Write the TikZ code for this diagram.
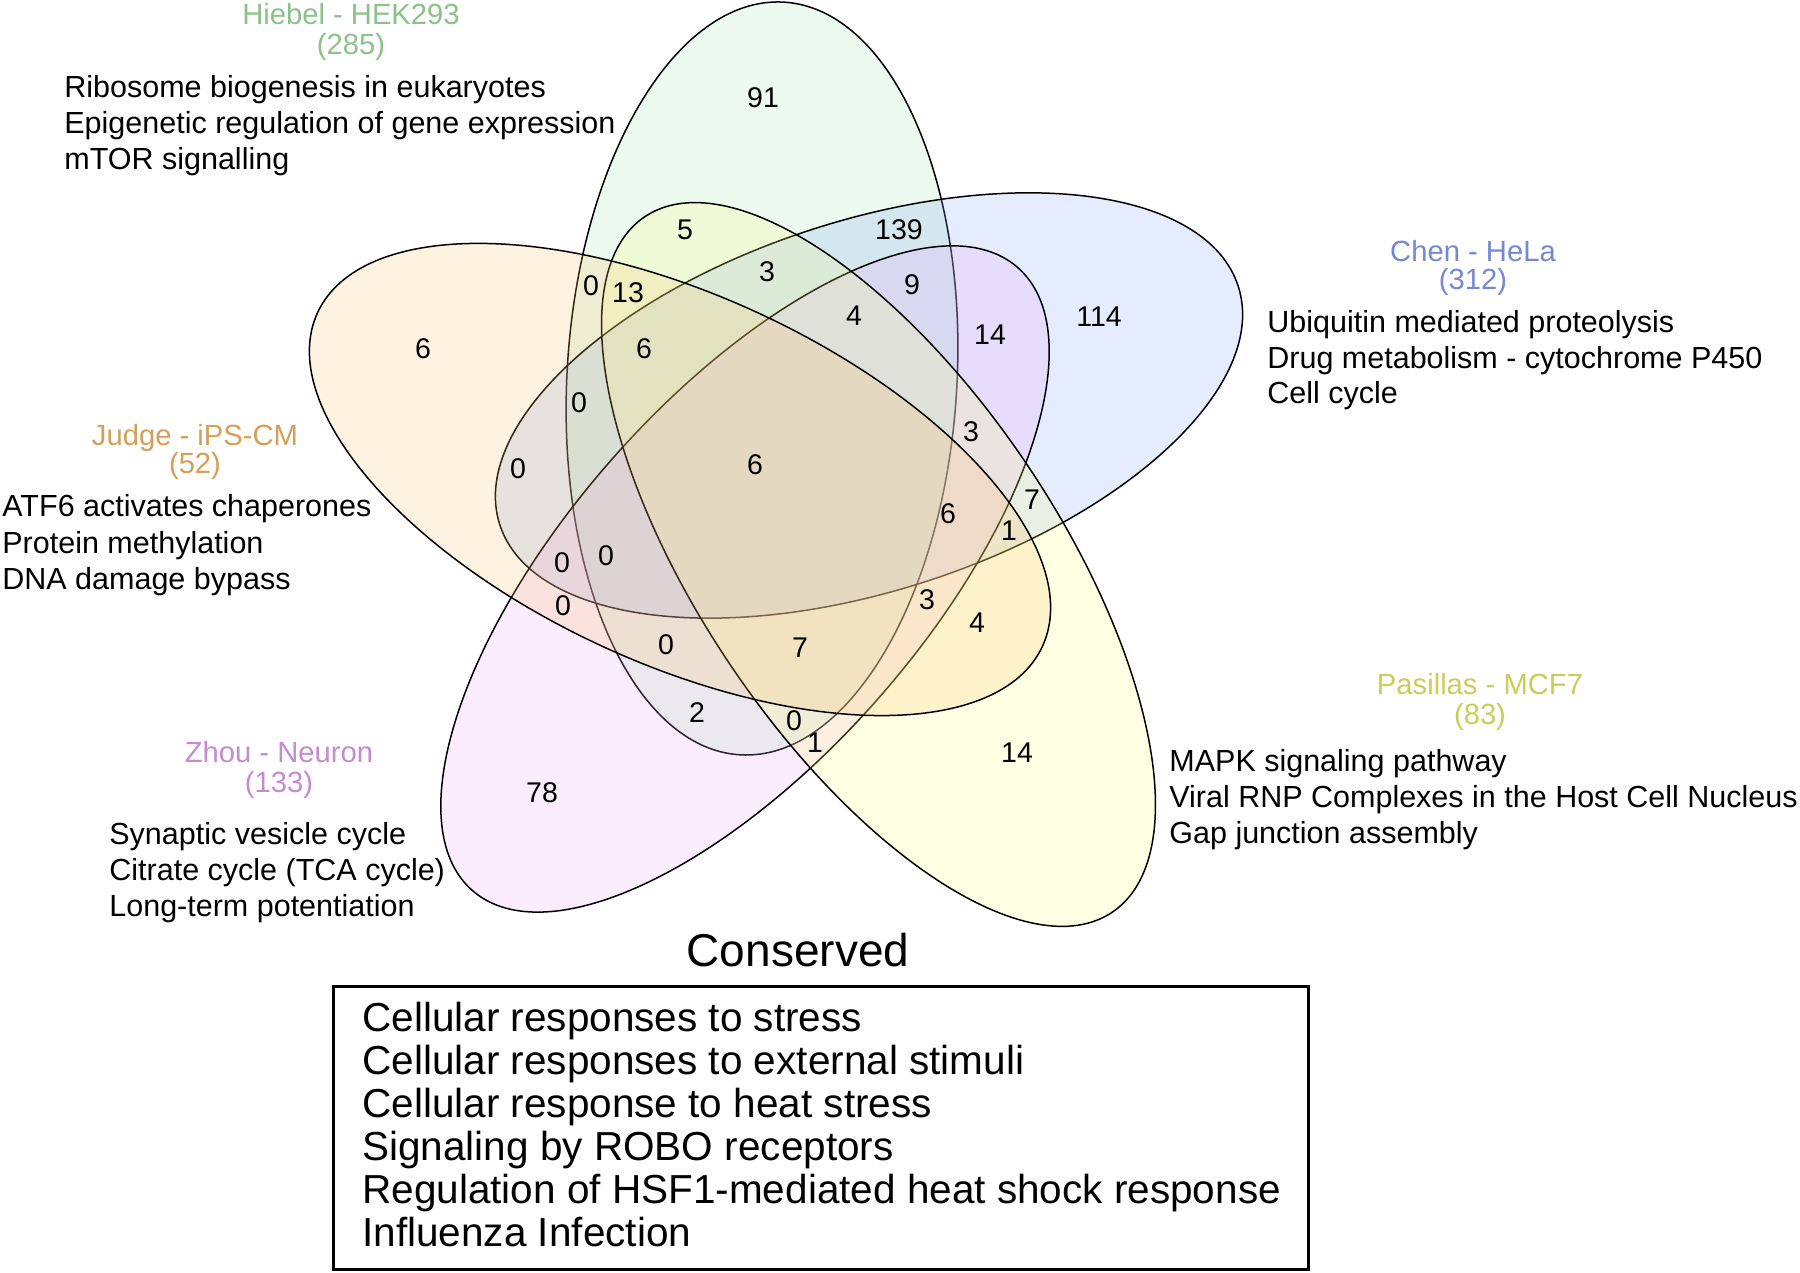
\documentclass[tikz,border=0pt]{standalone}
\usepackage{fontspec}
\setmainfont{Liberation Sans}

\definecolor{hiebelfill}{RGB}{160,225,170}
\definecolor{chenfill}{RGB}{120,160,245}
\definecolor{zhoufill}{RGB}{235,165,245}
\definecolor{pasillasfill}{RGB}{255,255,120}
\definecolor{judgefill}{RGB}{250,190,100}
\definecolor{hiebeltext}{RGB}{138,194,138}
\definecolor{chentext}{RGB}{116,137,207}
\definecolor{zhoutext}{RGB}{198,139,204}
\definecolor{pasillastext}{RGB}{204,204,92}
\definecolor{judgetext}{RGB}{212,159,88}

\begin{document}
\begin{tikzpicture}[x=0.5pt,y=0.5pt,
    setbody/.style={fill opacity=0.2, draw=black, line width=0.75pt},
    count/.style={inner sep=0pt, font=\fontsize{14.25}{16}\selectfont},
    settitle/.style={anchor=base, inner sep=0pt, font=\fontsize{14.6}{16}\selectfont},
    pathway/.style={anchor=base west, inner sep=0pt, font=\fontsize{15.25}{18}\selectfont},
    conserved/.style={anchor=base west, inner sep=0pt, font=\fontsize{20.25}{22}\selectfont}]

  \fill[white] (0,0) rectangle (1800,1273);
  \useasboundingbox (0,0) rectangle (1800,1273);

  % the five sets
  \draw[setbody, fill=hiebelfill, rotate around={86.7:(762,894.5)}]
    (762,894.5) ellipse [x radius=377, y radius=195];
  \draw[setbody, fill=chenfill, rotate around={17.9:(869,867.5)}]
    (869,867.5) ellipse [x radius=388, y radius=185];
  \draw[setbody, fill=zhoufill, rotate around={48.8:(745,694)}]
    (745,694) ellipse [x radius=414, y radius=179];
  \draw[setbody, fill=pasillasfill, rotate around={-56.1:(878.5,708.5)}]
    (878.5,708.5) ellipse [x radius=419, y radius=179];
  \draw[setbody, fill=judgefill, rotate around={-24.7:(680,793.5)}]
    (680,793.5) ellipse [x radius=399, y radius=184];

  % region counts
  \foreach \val/\px/\py [count=\k] in {91/763/1175, 5/685/1043, 139/899/1043,
      0/591/987, 13/628/980, 3/767/1001, 9/912/988, 4/854/957, 14/990/938,
      114/1099/956, 6/423/924, 6/644/924, 0/579/870, 0/518/804, 6/755/808,
      3/971/841, 7/1032/773, 6/948/759, 1/1009/742, 0/562/710, 0/606/717,
      0/563/667, 3/927/673, 4/977/650, 0/666/628, 7/800/625, 2/697/560,
      0/794/552, 1/815/530, 14/1017/520, 78/542/480}
    \node[count] (n\k) at (\px,\py) {\val};

  % set titles
  \node[settitle, text=hiebeltext] (hiebel) at (351,1248) {Hiebel - HEK293};
  \node[settitle, text=hiebeltext] (hiebelsize) at (351,1218) {(285)};
  \node[settitle, text=chentext] (chen) at (1473,1011) {Chen - HeLa};
  \node[settitle, text=chentext] (chensize) at (1473,983) {(312)};
  \node[settitle, text=judgetext] (judge) at (195,827) {Judge - iPS-CM};
  \node[settitle, text=judgetext] (judgesize) at (195,799) {(52)};
  \node[settitle, text=zhoutext] (zhou) at (279,510) {Zhou - Neuron};
  \node[settitle, text=zhoutext] (zhousize) at (279,480) {(133)};
  \node[settitle, text=pasillastext] (pasillas) at (1480,578) {Pasillas - MCF7};
  \node[settitle, text=pasillastext] (pasillassize) at (1480,548) {(83)};

  % pathways of each set
  \foreach \txt [count=\i from 0] in {Ribosome biogenesis in eukaryotes,
      Epigenetic regulation of gene expression, mTOR signalling}
    \node[pathway] (hiebel\i) at (64,1175-36*\i) {\txt};
  \foreach \txt [count=\i from 0] in {Ubiquitin mediated proteolysis,
      Drug metabolism - cytochrome P450, Cell cycle}
    \node[pathway] (chen\i) at (1267,940-35.5*\i) {\txt};
  \foreach \txt [count=\i from 0] in {ATF6 activates chaperones,
      Protein methylation, DNA damage bypass}
    \node[pathway] (judge\i) at (2,756-36.5*\i) {\txt};
  \foreach \txt [count=\i from 0] in {Synaptic vesicle cycle,
      Citrate cycle (TCA cycle), Long-term potentiation}
    \node[pathway] (zhou\i) at (109,428-36*\i) {\txt};
  \foreach \txt [count=\i from 0] in {MAPK signaling pathway,
      Viral RNP Complexes in the Host Cell Nucleus, Gap junction assembly}
    \node[pathway] (pasillas\i) at (1169,501-36*\i) {\txt};

  % conserved pathways
  \node[anchor=base, inner sep=0pt, font=\fontsize{23}{26}\selectfont] (title) at (798,306) {Conserved};
  \draw[line width=1.5pt] (333,3) rectangle (1308,286);
  \foreach \txt [count=\i from 0] in {Cellular responses to stress,
      Cellular responses to external stimuli, Cellular response to heat stress,
      Signaling by ROBO receptors, Regulation of HSF1-mediated heat shock response,
      Influenza Infection}
    \node[conserved] (cons\i) at (362,241-43*\i) {\txt};
\end{tikzpicture}
\end{document}
